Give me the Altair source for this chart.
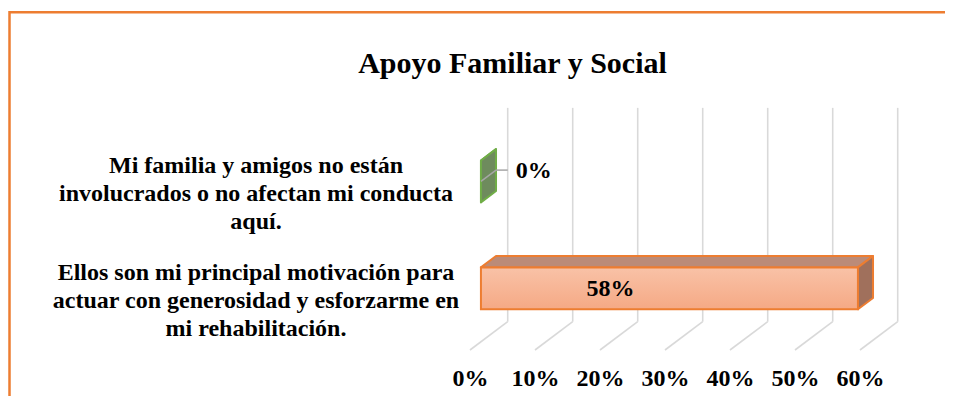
import altair as alt
import pandas as pd

# ---------------- data ----------------
chart_title = "Apoyo Familiar y Social"
categories = [
    "Mi familia y amigos no están\ninvolucrados o no afectan mi conducta\naquí.",
    "Ellos son mi principal motivación para\nactuar con generosidad y esforzarme en\nmi rehabilitación.",
]
values = [0, 58]
value_labels = ["0%", "58%"]
tick_values = [0, 10, 20, 30, 40, 50, 60]

# ---------------- style / geometry ----------------
W, H = 937, 388
PX_PER_PCT = 6.5
ZERO_PX = 462
X_DOM = [-ZERO_PX / PX_PER_PCT, (W - ZERO_PX) / PX_PER_PCT]
BAND_PX = 106.9
FLOOR_PX = 342
Y_DOM = [-(H - FLOOR_PX) / BAND_PX, FLOOR_PX / BAND_PX]
DX, DU = 5.8, 0.265       # full depth of the 3-D box (x in %, y in bands)
D1, D2 = 0.29, 0.69       # bar front / back depth
HH = 0.196                # half bar height (bands)
N_BANDS = 2

front_top = ["#6E8B5D", "#F9C2A7"]
front_bot = ["#6E8B5D", "#F5A985"]
top_fill = ["#6E8B5D", "#BB8B78"]
side_fill = ["#6E8B5D", "#A0705C"]
strokes = ["#70AD47", "#ED7D31"]
FONT = "Times New Roman, Liberation Serif, serif"

xs = alt.Scale(domain=X_DOM, nice=False, zero=False)
ys = alt.Scale(domain=Y_DOM, nice=False, zero=False)

n = len(categories)
centers = [N_BANDS - i - 0.5 for i in range(n)]

# gridlines
grid_back = pd.DataFrame({"x": [t + DX for t in tick_values],
                          "y": [DU] * len(tick_values),
                          "y2": [N_BANDS + DU] * len(tick_values)})
grid_floor = pd.DataFrame({"x": [t + DX for t in tick_values], "y": [DU] * len(tick_values),
                           "x2": tick_values, "y2": [0] * len(tick_values)})

back_rules = alt.Chart(grid_back).mark_rule(color="#D9D9D9", strokeWidth=1.6).encode(
    x=alt.X("x:Q", scale=xs, axis=alt.Axis(
        values=tick_values, labelExpr="datum.value + '%'", labelFont=FONT,
        labelFontWeight="bold", labelFontSize=24, labelColor="#000000",
        domain=False, ticks=False, tickSize=0, grid=False, labelPadding=0,
        labelBaseline="alphabetic", offset=-11, title=None)),
    y=alt.Y("y:Q", scale=ys, axis=None), y2="y2:Q")

floor_rules = alt.Chart(grid_floor).mark_rule(color="#D9D9D9", strokeWidth=1.6).encode(
    x=alt.X("x:Q", scale=xs), x2="x2:Q",
    y=alt.Y("y:Q", scale=ys), y2="y2:Q")

layers = [back_rules, floor_rules]

for i in range(n):
    v, c = values[i], centers[i]
    # top face (horizontal parallelogram)
    top_df = pd.DataFrame({
        "u": [c + HH + D1 * DU, c + HH + D2 * DU],
        "x": [D1 * DX, D2 * DX],
        "x2": [v + D1 * DX, v + D2 * DX]})
    layers.append(alt.Chart(top_df).mark_area(
        orient="horizontal", fill=top_fill[i], stroke=strokes[i], strokeWidth=2,
        strokeJoin="round").encode(
        y=alt.Y("u:Q", scale=ys), x=alt.X("x:Q", scale=xs), x2="x2:Q"))
    # side face (vertical parallelogram)
    side_df = pd.DataFrame({
        "x": [v + D1 * DX, v + D2 * DX],
        "y": [c - HH + D1 * DU, c - HH + D2 * DU],
        "y2": [c + HH + D1 * DU, c + HH + D2 * DU]})
    layers.append(alt.Chart(side_df).mark_area(
        orient="vertical", fill=side_fill[i], stroke=strokes[i], strokeWidth=2,
        strokeJoin="round").encode(
        x=alt.X("x:Q", scale=xs), y=alt.Y("y:Q", scale=ys), y2="y2:Q"))
    # front face
    if v > 0:
        front_df = pd.DataFrame({"x": [D1 * DX], "x2": [v + D1 * DX],
                                 "y": [c - HH + D1 * DU], "y2": [c + HH + D1 * DU]})
        layers.append(alt.Chart(front_df).mark_rect(
            stroke=strokes[i], strokeWidth=2,
            fill=alt.Gradient(gradient="linear", x1=0, x2=0, y1=0, y2=1,
                              stops=[alt.GradientStop(color=front_top[i], offset=0),
                                     alt.GradientStop(color=front_bot[i], offset=1)])
        ).encode(x=alt.X("x:Q", scale=xs), x2="x2:Q",
                 y=alt.Y("y:Q", scale=ys), y2="y2:Q"))
        lab_df = pd.DataFrame({"x": [v * 0.5 + D1 * DX], "y": [c + D1 * DU], "t": [value_labels[i]]})
        layers.append(alt.Chart(lab_df).mark_text(
            font=FONT, fontWeight="bold", fontSize=24, color="#000000", dx=-59, dy=1,
            baseline="middle", align="center").encode(
            x=alt.X("x:Q", scale=xs), y=alt.Y("y:Q", scale=ys), text="t:N"))
    else:
        lead_df = pd.DataFrame({
            "x": [v + D1 * DX, v + D2 * DX], "y": [c + D1 * DU, c + D2 * DU],
            "x2": [v + D2 * DX, v + DX], "y2": [c + D2 * DU, c + D2 * DU]})
        layers.append(alt.Chart(lead_df).mark_rule(color="#A6A6A6", strokeWidth=1.5).encode(
            x=alt.X("x:Q", scale=xs), x2="x2:Q", y=alt.Y("y:Q", scale=ys), y2="y2:Q"))
        lab_df = pd.DataFrame({"x": [v + DX], "y": [c + D2 * DU], "t": [value_labels[i]]})
        layers.append(alt.Chart(lab_df).mark_text(
            font=FONT, fontWeight="bold", fontSize=24, color="#000000", dx=8, dy=1,
            baseline="middle", align="left").encode(
            x=alt.X("x:Q", scale=xs), y=alt.Y("y:Q", scale=ys), text="t:N"))

# category labels (three lines each, centred on the band)
cat_df = pd.DataFrame({"label": categories, "y": [ci - 0.03 for ci in centers]})
layers.append(alt.Chart(cat_df).mark_text(
    font=FONT, fontWeight="bold", fontSize=24, color="#000000", lineBreak="\n",
    lineHeight=28, align="center", baseline="middle", dy=-27).encode(
    x=alt.value(248), y=alt.Y("y:Q", scale=ys), text="label:N"))

# title
title_df = pd.DataFrame({"t": [chart_title]})
layers.append(alt.Chart(title_df).mark_text(
    font=FONT, fontWeight="bold", fontSize=30, color="#000000",
    align="center", baseline="alphabetic").encode(
    x=alt.value(504.5), y=alt.value(65), text="t:N"))

# chart frame
frame_df = pd.DataFrame({"k": [0]})
layers.append(alt.Chart(frame_df).mark_rule(color="#ED7D31", strokeWidth=2.5).encode(
    x=alt.value(1.5), x2=alt.value(W), y=alt.value(4.2)))
layers.append(alt.Chart(frame_df).mark_rule(color="#ED7D31", strokeWidth=2.5).encode(
    x=alt.value(1.5), y=alt.value(3), y2=alt.value(H)))

chart = alt.layer(*layers).properties(
    width=W, height=H, background="#FFFFFF",
    padding={"left": 0, "right": 0, "top": 0, "bottom": 0},
    autosize=alt.AutoSizeParams(type="none"),
).configure_view(stroke=None)

chart.save("out.html", embed_options={"renderer": "svg", "actions": False})
